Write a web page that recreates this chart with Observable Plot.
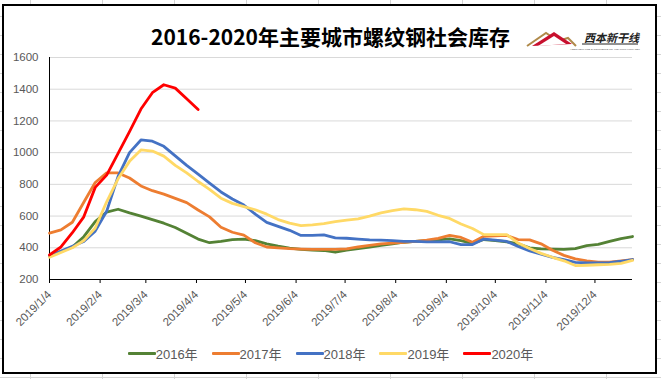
<!DOCTYPE html>
<html>
<head>
<meta charset="utf-8">
<script src="https://cdn.jsdelivr.net/npm/d3@7"></script>
<script src="https://cdn.jsdelivr.net/npm/@observablehq/plot@0.6"></script>
<style>
  html, body { margin: 0; padding: 0; }
  body {
    width: 661px; height: 379px; position: relative; overflow: hidden;
    background-color: #fff;
    background-image: linear-gradient(to right, #d4d4d4 1px, transparent 1px), linear-gradient(to bottom, #d4d4d4 1px, transparent 1px);
    background-size: 72px 19px;
    background-position: 30px 16px;
  }
  #frame { position: absolute; left: 2px; top: 4px; width: 655px; height: 370px; box-sizing: border-box; border: 2px solid #000; background: #fff; }
  #title { position: absolute; left: 0; top: 21px; width: 661px; text-align: center; font: bold 21px "Noto Sans CJK SC", sans-serif; color: #000; line-height: 30px; }
  #chart { position: absolute; left: 0; top: 0; }
  #legend { position: absolute; left: 0; top: 344px; width: 661px; display: flex; justify-content: center; gap: 14px; font: 13px "Liberation Sans", "Noto Sans CJK SC", sans-serif; color: #595959; }
  #legend .item { display: flex; align-items: center; }
  #legend .sw { width: 28px; height: 3px; border-radius: 1px; }
  #logo { position: absolute; left: 524px; top: 22px; }
</style>
</head>
<body>
<div id="frame"></div>
<div id="title">2016-2020年主要城市螺纹钢社会库存</div>
<svg id="logo" width="120" height="34" viewBox="0 0 120 34">
  <path d="M3 24 L22 11 L34 19 L44 16 L52 24" fill="none" stroke="#b08a4a" stroke-width="2"/>
  <path d="M8 24 L30 10 L48 22 Z" fill="#c8102e"/>
  <path d="M14 24 L30 14 L42 22 Z" fill="#fff"/>
  <text x="60" y="20" font-family="Noto Sans CJK SC" font-weight="bold" font-style="italic" font-size="11" fill="#222">西本新干线</text>
  <line x1="58" y1="22" x2="114" y2="22" stroke="#222" stroke-width="1"/>
  <text x="46" y="27.5" font-family="Liberation Sans" font-size="2.5" fill="#555">XIBEN NEW LINE E-COMMERCE CO. LTD    WWW.96369.NET</text>
</svg>
<div id="chart"></div>
<div id="legend"></div>
<script>
// weekly dates (x categories)
const weekDates = ["2019-01-04","2019-01-11","2019-01-18","2019-01-25","2019-02-01","2019-02-08","2019-02-15","2019-02-22","2019-03-01","2019-03-08","2019-03-15","2019-03-22","2019-03-29","2019-04-05","2019-04-12","2019-04-19","2019-04-26","2019-05-03","2019-05-10","2019-05-17","2019-05-24","2019-05-31","2019-06-07","2019-06-14","2019-06-21","2019-06-28","2019-07-05","2019-07-12","2019-07-19","2019-07-26","2019-08-02","2019-08-09","2019-08-16","2019-08-23","2019-08-30","2019-09-06","2019-09-13","2019-09-20","2019-09-27","2019-10-04","2019-10-11","2019-10-18","2019-10-25","2019-11-01","2019-11-08","2019-11-15","2019-11-22","2019-11-29","2019-12-06","2019-12-13","2019-12-20","2019-12-27"];

const years = ["2016年","2017年","2018年","2019年","2020年"];
const colors = ["#548235","#ED7D31","#4472C4","#FFD966","#FF0000"];

const s2016 = [350,375,405,470,565,625,643,620,600,578,555,528,492,455,432,440,452,454,445,425,410,398,390,385,383,372,385,395,405,415,425,435,440,445,450,456,445,428,452,445,438,425,400,393,392,390,395,414,421,440,458,471];
const s2017 = [492,513,561,687,812,872,872,840,790,760,738,712,685,638,595,530,498,480,432,405,400,395,392,390,390,390,393,405,415,425,430,435,440,448,460,478,465,435,472,475,478,452,450,425,385,352,330,318,310,310,317,326];
const s2018 = [350,380,410,440,505,630,850,1000,1080,1072,1040,980,920,865,808,752,708,670,612,560,535,510,478,478,482,463,460,455,450,448,445,440,440,437,437,438,420,420,455,448,440,408,380,360,340,325,308,305,304,306,315,326];
const s2019 = [340,370,400,445,525,690,835,945,1017,1010,978,920,872,818,768,713,680,660,640,612,578,555,540,545,553,565,575,582,600,620,635,645,640,630,605,585,550,522,483,483,483,430,395,365,340,318,288,290,293,296,302,320];
const s2020 = [355,405,495,595,781,858,995,1132,1275,1378,1428,1407,1340,1272];

const yTicks = [200,400,600,800,1000,1200,1400,1600];
const xTickDates = ["2019-01-04","2019-02-04","2019-03-04","2019-04-04","2019-05-04","2019-06-04","2019-07-04","2019-08-04","2019-09-04","2019-10-04","2019-11-04","2019-12-04"];
const xTickLabels = ["2019/1/4","2019/2/4","2019/3/4","2019/4/4","2019/5/4","2019/6/4","2019/7/4","2019/8/4","2019/9/4","2019/10/4","2019/11/4","2019/12/4"];

const seriesList = [s2016, s2017, s2018, s2019, s2020];
const dates = weekDates.map(d => new Date(d));
const rows = [];
seriesList.forEach((s, k) => s.forEach((v, i) => rows.push({date: dates[i], value: v, year: years[k]})));

const tickDates = xTickDates.map(d => new Date(d));
const labelMap = new Map(tickDates.map((d, i) => [+d, xTickLabels[i]]));

const chart = Plot.plot({
  width: 661, height: 330,
  marginLeft: 49, marginRight: 29, marginTop: 57, marginBottom: 51,
  style: {fontFamily: "Liberation Sans, sans-serif", fontSize: "11px", background: "transparent", overflow: "visible"},
  x: {type: "utc", domain: [dates[0], dates[dates.length - 1]]},
  y: {domain: [200, 1600]},
  color: {domain: years, range: colors},
  marks: [
    Plot.gridY(yTicks.slice(1), {stroke: "#d9d9d9", strokeOpacity: 1}),
    Plot.axisY(yTicks, {tickSize: 0, tickPadding: 11, label: null, tickFormat: d => String(d), fill: "#595959", fontSize: 11.5}),
    Plot.axisX(tickDates, {tickSize: 4, tickPadding: 9, tickRotate: -45, label: null, tickFormat: d => labelMap.get(+d), fill: "#595959", stroke: "#000", fontSize: 11.5}),
    Plot.ruleY([200], {stroke: "#000"}),
    Plot.ruleX([dates[0]], {stroke: "#000"}),
    Plot.line(rows, {x: "date", y: "value", z: "year", stroke: "year", strokeWidth: 2.8})
  ]
});
document.getElementById("chart").append(chart);

const legend = document.getElementById("legend");
years.forEach((y, i) => {
  const it = document.createElement("div");
  it.className = "item";
  const sw = document.createElement("span");
  sw.className = "sw";
  sw.style.background = colors[i];
  const tx = document.createElement("span");
  tx.textContent = y;
  it.append(sw, tx);
  legend.append(it);
});
</script>
</body>
</html>
